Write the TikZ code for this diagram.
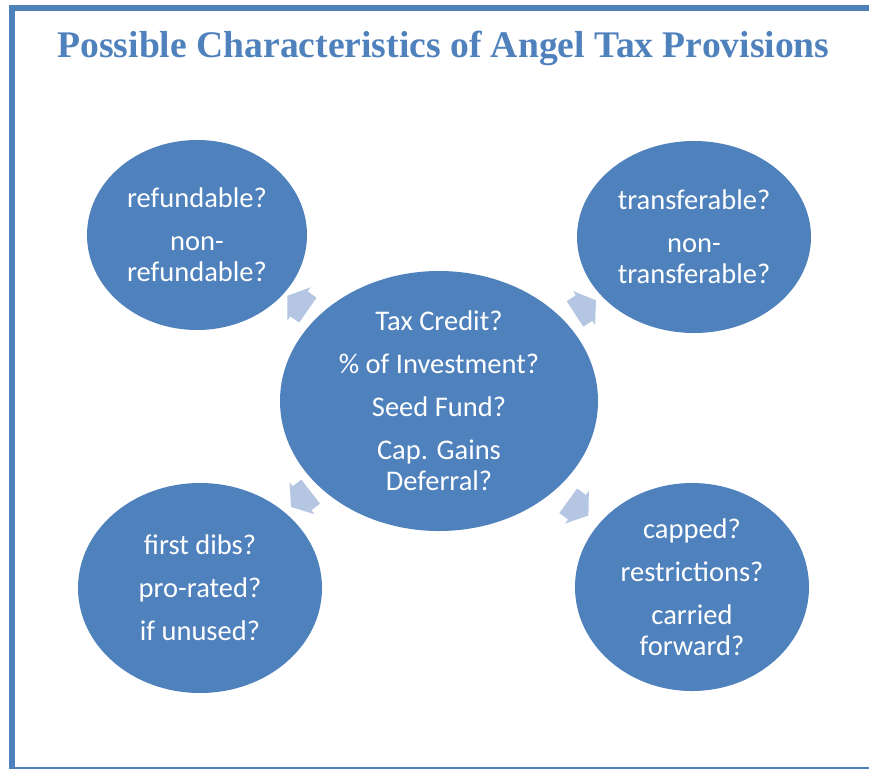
\documentclass[tikz,border=0pt]{standalone}
\usepackage{fontspec}
\setmainfont{Carlito}
\newfontfamily\titlefont{Liberation Serif}
\usetikzlibrary{shapes.geometric,shapes.arrows}
\definecolor{accent}{HTML}{4F81BD}
\definecolor{pale}{HTML}{B4C6E1}
\begin{document}
\begin{tikzpicture}[x=1pt,y=-1pt,
  blob/.style={ellipse, fill=accent, draw=none, inner sep=0},
  lbl/.style={text=white, align=center, inner sep=0, font=\fontsize{28.5}{31}\selectfont},
  pointer/.style={single arrow, fill=pale, draw=none, inner xsep=0, inner ysep=15,
    minimum height=25, single arrow head extend=5, single arrow tip angle=110}]
\useasboundingbox (0,0) rectangle (869,769);
\fill[white] (0,0) rectangle (869,769);
% frame
\draw[accent, line width=6] (869,8) -- (12,8) -- (12,768);
\draw[accent, line width=2.5] (9,768) -- (869,768);
% heading
\node[font=\titlefont\bfseries\fontsize{37.6}{40}\selectfont, text=accent, anchor=base, inner sep=0]
  (title) at (443.5,57) {Possible Characteristics of Angel Tax Provisions};
% hub and satellites
\node[blob, minimum width=318, minimum height=260] (hub) at (439,401) {};
\node[blob, minimum width=220, minimum height=190] (tl) at (197,235) {};
\node[blob, minimum width=234, minimum height=192] (tr) at (694,237) {};
\node[blob, minimum width=244, minimum height=210] (bl) at (200,588) {};
\node[blob, minimum width=234, minimum height=208] (br) at (692,587) {};
% labels
\node[lbl] (hubtxt) at (hub) {Tax Credit?\\[12pt] \% of Investment?\\[12pt] Seed Fund?\\[12pt] Cap. Gains\\ Deferral?};
\node[lbl] (tltxt) at (tl) {refundable?\\[12pt] non-\\ refundable?};
\node[lbl] (trtxt) at (tr) {transferable?\\[12pt] non-\\ transferable?};
\node[lbl] (bltxt) at (bl) {first dibs?\\[12pt] pro-rated?\\[12pt] if unused?};
\node[lbl] (brtxt) at (br) {capped?\\[12pt] restrictions?\\[12pt] carried\\ forward?};
% diverging arrows
\node[pointer, rotate=145] (ptl) at (302,306) {};
\node[pointer, rotate=33] (ptr) at (581,310) {};
\node[pointer, rotate=218] (pbl) at (305,496) {};
\node[pointer, rotate=-36] (pbr) at (574,505) {};
\end{tikzpicture}
\end{document}
